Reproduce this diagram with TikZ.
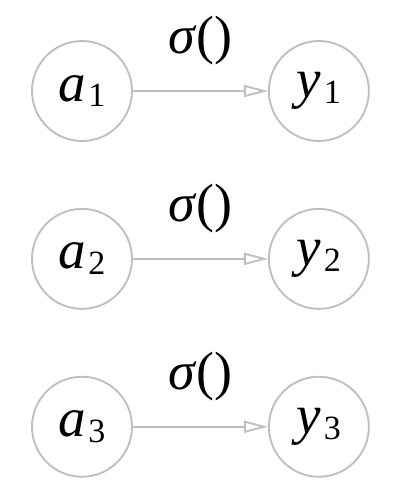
\documentclass[tikz,border=0pt]{standalone}
\usepackage{fontspec}
\setmainfont{Liberation Serif}
\usetikzlibrary{positioning, arrows.meta}

\newcommand{\unitlbl}[2]{{\fontsize{47}{47}\selectfont\itshape #1}\hspace{0.2em}{\fontsize{29}{29}\selectfont\raisebox{-0.17em}{#2}}}

\begin{document}
\begin{tikzpicture}[
        node distance=1.98cm and 4.05cm,
        % --- stiluri ---
        unit/.style={
                draw=black!25,
                line width=1.6pt,
                circle,
                minimum size=3cm,
                inner sep=0pt
            },
        link/.style={
                -{Triangle[open, length=0.72cm, width=0.36cm]},
                draw=black!25,
                line width=1.6pt
            },
        fn/.style={
                midway,
                above=0.75cm,
                inner sep=0pt,
                font=\fontsize{46}{46}\selectfont
            }
    ]

    \useasboundingbox (-2.46,2.73) rectangle (9.75,-12.18);

    % rândul 1
    \node[unit] (a1) {\unitlbl{a}{1}};
    \node[unit, right=of a1] (y1) {\unitlbl{y}{1}};
    \draw[link] (a1) -- node[fn] {\textit{σ}()} (y1);

    % rândul 2
    \node[unit, below=of a1] (a2) {\unitlbl{a}{2}};
    \node[unit, right=of a2] (y2) {\unitlbl{y}{2}};
    \draw[link] (a2) -- node[fn] {\textit{σ}()} (y2);

    % rândul 3
    \node[unit, below=of a2] (a3) {\unitlbl{a}{3}};
    \node[unit, right=of a3] (y3) {\unitlbl{y}{3}};
    \draw[link] (a3) -- node[fn] {\textit{σ}()} (y3);

\end{tikzpicture}
\end{document}
